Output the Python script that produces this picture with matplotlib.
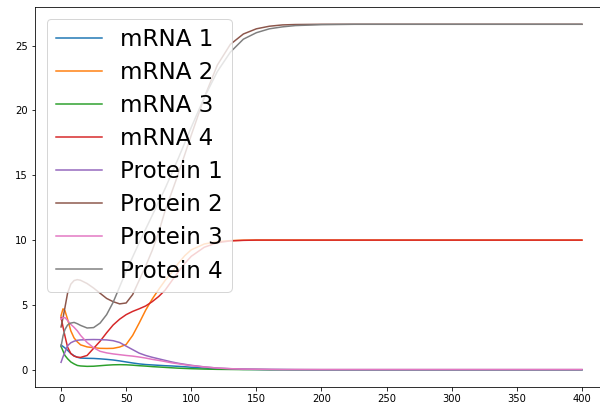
import matplotlib
matplotlib.use("Agg")
import matplotlib.pyplot as plt

t = [0, 1.5, 3, 5, 7.5, 10, 12.5, 15, 20, 25, 30, 35, 40, 45, 50, 55, 60, 65, 70, 75,
     80, 85, 90, 95, 100, 110, 120, 130, 140, 150, 160, 170, 180, 200, 225, 250, 300, 350, 400]

mrna1 = [1.9, 1.8, 1.68, 1.5, 1.25, 1.08, 0.96, 0.9, 0.88, 0.87, 0.84, 0.8, 0.75, 0.68, 0.6, 0.52,
         0.45, 0.4, 0.37, 0.34, 0.31, 0.29, 0.26, 0.23, 0.19, 0.13, 0.08, 0.05, 0.03, 0.02, 0.01,
         0.01, 0.0, 0.0, 0.0, 0.0, 0.0, 0.0, 0.0]
mrna2 = [4.17, 4.7, 4.55, 3.9, 3.0, 2.45, 2.15, 1.92, 1.76, 1.7, 1.65, 1.64, 1.65, 1.75, 1.95, 2.65,
         3.6, 4.6, 5.45, 6.2, 6.9, 7.5, 8.2, 8.8, 9.25, 9.7, 9.88, 9.96, 9.99, 10.0, 10.0,
         10.0, 10.0, 10.0, 10.0, 10.0, 10.0, 10.0, 10.0]
mrna3 = [1.8, 1.45, 1.1, 0.85, 0.6, 0.45, 0.33, 0.29, 0.26, 0.27, 0.31, 0.35, 0.38, 0.39, 0.38, 0.35,
         0.31, 0.28, 0.24, 0.21, 0.18, 0.15, 0.12, 0.1, 0.08, 0.05, 0.03, 0.02, 0.01, 0.01, 0.0,
         0.0, 0.0, 0.0, 0.0, 0.0, 0.0, 0.0, 0.0]
mrna4 = [4.05, 3.3, 2.6, 1.75, 1.25, 1.05, 0.97, 0.95, 1.1, 1.65, 2.2, 2.85, 3.45, 3.9, 4.25, 4.5,
         4.7, 4.92, 5.25, 5.65, 6.15, 6.85, 7.55, 8.2, 8.75, 9.45, 9.8, 9.94, 9.98, 10.0, 10.0,
         10.0, 10.0, 10.0, 10.0, 10.0, 10.0, 10.0, 10.0]
prot1 = [0.57, 1.0, 1.35, 1.85, 2.08, 2.2, 2.27, 2.3, 2.32, 2.33, 2.32, 2.3, 2.24, 2.1, 1.82, 1.55,
         1.28, 1.1, 0.96, 0.84, 0.72, 0.6, 0.5, 0.42, 0.34, 0.22, 0.13, 0.08, 0.05, 0.03, 0.02,
         0.01, 0.01, 0.0, 0.0, 0.0, 0.0, 0.0, 0.0]
prot2 = [3.3, 4.0, 4.8, 5.9, 6.6, 6.88, 6.95, 6.9, 6.65, 6.3, 5.9, 5.5, 5.25, 5.08, 5.15, 5.8,
         6.9, 8.0, 9.2, 10.6, 12.3, 13.7, 15.1, 16.6, 18.1, 21.0, 23.5, 25.1, 25.9, 26.3, 26.5,
         26.6, 26.63, 26.65, 26.65, 26.65, 26.65, 26.65, 26.65]
prot3 = [3.9, 4.02, 4.02, 3.8, 3.5, 3.27, 3.0, 2.65, 2.1, 1.7, 1.42, 1.3, 1.22, 1.16, 1.1, 1.05,
         0.98, 0.9, 0.8, 0.72, 0.63, 0.53, 0.46, 0.38, 0.32, 0.21, 0.13, 0.08, 0.05, 0.04, 0.03,
         0.02, 0.02, 0.02, 0.02, 0.02, 0.02, 0.02, 0.02]
prot4 = [1.8, 2.6, 3.1, 3.45, 3.6, 3.65, 3.55, 3.42, 3.22, 3.25, 3.6, 4.25, 5.2, 6.4, 7.6, 8.7,
         9.8, 10.85, 11.9, 12.95, 14.0, 15.15, 16.3, 17.5, 18.7, 21.0, 23.0, 24.5, 25.5, 26.0, 26.3,
         26.45, 26.55, 26.62, 26.65, 26.65, 26.65, 26.65, 26.65]

labels = ["mRNA 1", "mRNA 2", "mRNA 3", "mRNA 4", "Protein 1", "Protein 2", "Protein 3", "Protein 4"]
series = [mrna1, mrna2, mrna3, mrna4, prot1, prot2, prot3, prot4]

fig = plt.figure(figsize=(600 / 72, 411 / 72), dpi=72)
ax = fig.add_axes([35 / 600, 24 / 411, 573 / 600, 380 / 411])
for y, lab in zip(series, labels):
    ax.plot(t, y, label=lab, linewidth=1.5)
ax.legend(loc="upper left", fontsize=23, labelspacing=0.44)
fig.savefig("out.png", dpi=72)
